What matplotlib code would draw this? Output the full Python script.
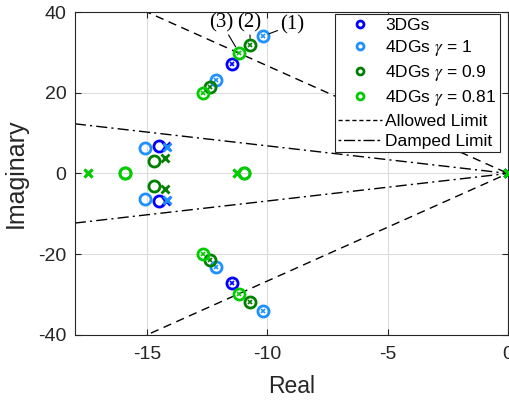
import numpy as np
import matplotlib.pyplot as plt
from matplotlib.lines import Line2D

plt.rcParams['font.family'] = ['Liberation Sans', 'DejaVu Sans']
plt.rcParams['mathtext.fontset'] = 'stix'
plt.rcParams['axes.unicode_minus'] = False

# poles (x) and zeros (o), upper half only (conjugates mirrored)
names = ['3DGs', r'4DGs $\gamma$ = 1', r'4DGs $\gamma$ = 0.9', r'4DGs $\gamma$ = 0.81']
colors = ['#0000ff', '#1e90ff', '#008000', '#00cc00']

# modes where pole and zero sit together (circle with a cross)
pz_re = [[-11.45], [-10.2, -12.14], [-10.7, -12.39], [-11.17, -12.67]]
pz_im = [[27.2], [34.0, 23.2], [31.8, 21.5], [29.9, 19.9]]

# separate zeros
zero_re = [[-14.49], [-15.08], [-14.7], [-15.9, -10.99]]
zero_im = [[6.9], [6.3], [3.1], [0.0, 0.0]]

# separate poles
pole_re = [[-14.22, 0.0], [-14.18, 0.0], [-14.27, 0.0], [-17.45, -11.26, 0.0]]
pole_im = [[6.9, 0.0], [6.6, 0.0], [3.8, 0.0], [0.0, 0.0, 0.0]]

allowed_slope = 40 / 15
damped_slope = 12.3 / 18

fig = plt.figure(figsize=(5.09, 4.01), dpi=100)
ax = fig.add_axes([0.147, 0.165, 0.851, 0.805])

xs = np.array([-18, 0])
ax.plot(xs, -allowed_slope * xs, 'k--', lw=1, dashes=(6, 4))
ax.plot(xs, allowed_slope * xs, 'k--', lw=1, dashes=(6, 4))
ax.plot(xs, -damped_slope * xs, 'k-.', lw=1, dashes=(8, 3, 1.5, 3))
ax.plot(xs, damped_slope * xs, 'k-.', lw=1, dashes=(8, 3, 1.5, 3))

for i in range(4):
    c = colors[i]
    for sgn in (1, -1):
        re = np.array(pz_re[i]); im = sgn * np.array(pz_im[i])
        ax.plot(re, im, 'o', ms=8, mfc='none', mec=c, mew=2, zorder=3)
        ax.plot(re, im, 'x', ms=3.5, mec=c, mew=1.2, zorder=3)
        zr = np.array(zero_re[i]); zi = sgn * np.array(zero_im[i])
        ax.plot(zr, zi, 'o', ms=8, mfc='none', mec=c, mew=2, zorder=3)
        pr = np.array(pole_re[i]); pi = sgn * np.array(pole_im[i])
        ax.plot(pr, pi, 'x', ms=5.5, mec=c, mew=2, zorder=3)

ax.set_xlim(-18, 0)
ax.set_ylim(-40, 40)
ax.set_xticks([-15, -10, -5, 0])
ax.set_yticks([-40, -20, 0, 20, 40])
ax.grid(True, color='#dcdcdc', lw=0.8)
ax.set_axisbelow(True)
ax.tick_params(direction='in', labelsize=14, colors='#262626', length=4,
               top=True, right=True)
ax.tick_params(axis='x', pad=8)
ax.tick_params(axis='y', pad=6)
for s in ax.spines.values():
    s.set_color('#262626')
ax.set_xlabel('Real', fontsize=16.5, color='#262626')
ax.set_ylabel('Imaginary', fontsize=18, color='#262626')
ax.xaxis.set_label_coords(0.5, -0.125)
ax.yaxis.set_label_coords(-0.108, 0.5)

ann = dict(arrowstyle='-', lw=0.8, color='k', shrinkA=0, shrinkB=5)
ax.annotate('(3)', xy=(-11.17, 29.9), xytext=(-11.92, 37.4), ha='center', va='center',
            fontsize=15, family='Liberation Serif', arrowprops=ann)
ax.annotate('(2)', xy=(-10.7, 31.8), xytext=(-10.75, 37.4), ha='center', va='center',
            fontsize=15, family='Liberation Serif', arrowprops=ann)
ax.annotate('(1)', xy=(-10.2, 34.0), xytext=(-8.96, 36.8), ha='center', va='center',
            fontsize=15, family='Liberation Serif', arrowprops=ann)

handles = [Line2D([], [], ls='none', marker='o', ms=5, mfc='none', mec=c, mew=2)
           for c in colors]
handles.append(Line2D([], [], color='k', ls='--', lw=1, dashes=(3, 2)))
handles.append(Line2D([], [], color='k', ls='-.', lw=1, dashes=(2, 2, 8, 2)))
leg = ax.legend(handles, names + ['Allowed Limit', 'Damped Limit'],
                loc='upper right', bbox_to_anchor=(0.981, 0.994), fontsize=12.5,
                handlelength=2.5, handletextpad=0.2, labelspacing=0.3,
                borderpad=0.2, borderaxespad=0, frameon=True, fancybox=False,
                framealpha=1)
leg.get_frame().set_edgecolor('#262626')
leg.get_frame().set_linewidth(0.8)

fig.savefig('out.png', dpi=100)
